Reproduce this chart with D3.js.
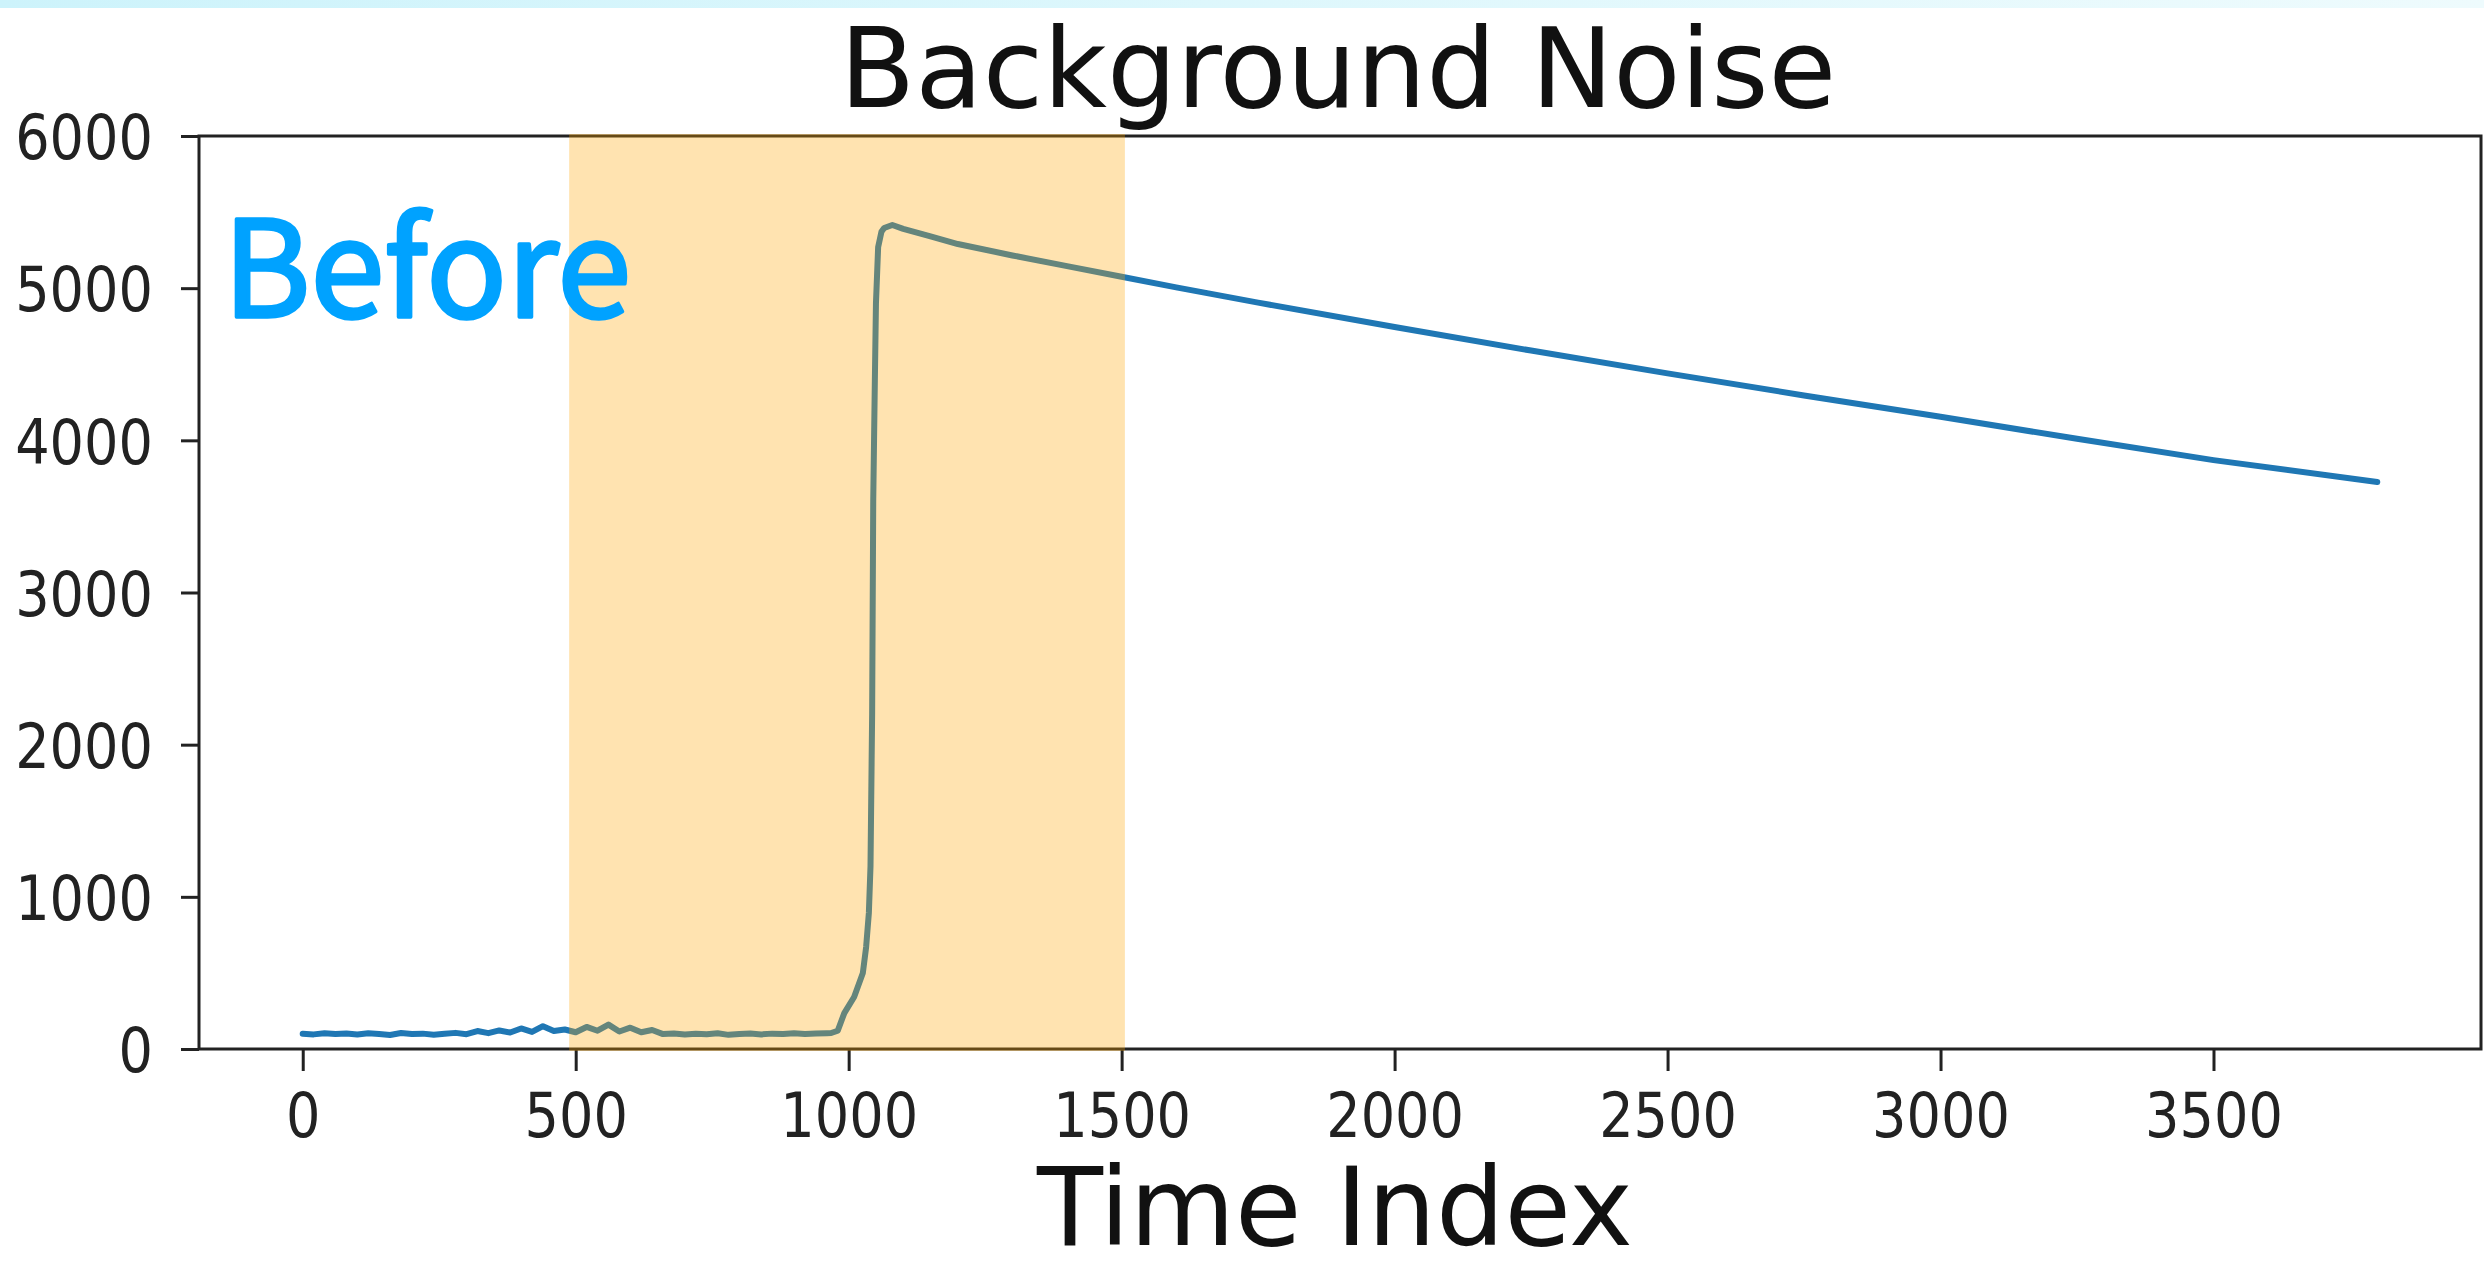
<!DOCTYPE html>
<html>
<head>
    <title>Background Noise</title>
    <script src="https://d3js.org/d3.v7.min.js"></script>
    <style>
        body { margin: 0; background: #fff; }
        text { font-family: "DejaVu Sans", sans-serif; }
    </style>
</head>
<body>
    <script>
        // data
        var timeIndex = [0, 20, 40, 60, 80, 100, 120, 140, 160, 180, 200, 220, 240, 260, 280, 300,
            320, 340, 360, 380, 400, 420, 440, 460, 480, 500, 520, 540, 560, 580, 600, 620, 640,
            660, 680, 700, 720, 740, 760, 780, 800, 820, 840, 860, 880, 900, 920, 940, 960, 968,
            980, 992, 1010, 1026, 1032, 1037, 1040, 1043, 1045, 1048, 1050, 1054, 1060, 1065, 1080,
            1100, 1150, 1200, 1300, 1400, 1500, 1600, 1750, 2000, 2250, 2500, 2750, 3000, 3250, 3500, 3800];
        var noiseValues = [100, 96, 104, 98, 102, 95, 103, 99, 92, 105, 98, 101, 94, 100, 106, 97,
            118, 104, 122, 108, 135, 112, 150, 118, 128, 110, 145, 120, 160, 115, 140, 110, 125,
            98, 102, 95, 100, 97, 104, 93, 99, 102, 96, 101, 98, 103, 99, 102, 104, 105,
            120, 236, 342, 500, 670, 894, 1200, 2200, 3600, 4400, 4900, 5270, 5370, 5395, 5415,
            5390, 5340, 5290, 5215, 5145, 5075, 5005, 4905, 4745, 4590, 4440, 4295, 4155, 4010, 3870, 3726];

        var xTicks = [0, 500, 1000, 1500, 2000, 2500, 3000, 3500];
        var yTicks = [0, 1000, 2000, 3000, 4000, 5000, 6000];
        var highlight = [488, 1506];

        var width = 2484, height = 1262;
        var plotLeft = 199, plotRight = 2481, plotTop = 136, plotBottom = 1049;

        var svg = d3.select("body")
                    .append("svg")
                    .attr("width", width)
                    .attr("height", height);

        // light band at the very top
        var grad = svg.append("defs").append("linearGradient").attr("id", "band");
        grad.append("stop").attr("offset", "0%").attr("stop-color", "#cdf3fb");
        grad.append("stop").attr("offset", "100%").attr("stop-color", "#eefbfd");
        svg.append("rect").attr("x", 0).attr("y", 0).attr("width", width).attr("height", 8)
           .attr("fill", "url(#band)");

        var x = d3.scaleLinear().domain([-190, 3990]).range([plotLeft, plotRight]);
        var y = d3.scaleLinear().domain([0, 6000]).range([plotBottom, plotTop]);

        // line
        var points = timeIndex.map((t, i) => [t, noiseValues[i]]);
        var line = d3.line().x(d => x(d[0])).y(d => y(d[1]));
        svg.append("path")
           .datum(points)
           .attr("d", line)
           .attr("fill", "none")
           .attr("stroke", "#1f77b4")
           .attr("stroke-width", 6)
           .attr("stroke-linejoin", "round")
           .attr("stroke-linecap", "round");

        // axes
        var xAxis = svg.append("g")
            .attr("transform", `translate(0,${plotBottom})`)
            .call(d3.axisBottom(x).tickValues(xTicks).tickFormat(d3.format("d"))
                    .tickSize(22).tickSizeOuter(0));
        var yAxis = svg.append("g")
            .attr("transform", `translate(${plotLeft},0)`)
            .call(d3.axisLeft(y).tickValues(yTicks).tickFormat(d3.format("d"))
                    .tickSize(18).tickSizeOuter(0));

        [xAxis, yAxis].forEach(a => {
            a.select(".domain").remove();
            a.selectAll("line").attr("stroke", "#222").attr("stroke-width", 3);
            a.selectAll("text")
             .attr("fill", "#222")
             .style("font-size", "63px");
        });
        xAxis.selectAll("text")
             .attr("y", 88).attr("dy", 0)
             .attr("transform", "scale(0.86,1)");
        yAxis.selectAll("text")
             .attr("x", -46 / 0.86).attr("dy", "0.36em")
             .attr("transform", "scale(0.86,1)");

        // frame
        svg.append("rect")
           .attr("x", plotLeft).attr("y", plotTop)
           .attr("width", plotRight - plotLeft).attr("height", plotBottom - plotTop)
           .attr("fill", "none")
           .attr("stroke", "#222")
           .attr("stroke-width", 3);

        // highlighted span, drawn on top
        svg.append("rect")
           .attr("x", x(highlight[0]))
           .attr("y", plotTop - 2)
           .attr("width", x(highlight[1]) - x(highlight[0]))
           .attr("height", plotBottom - plotTop + 4)
           .attr("fill", "orange")
           .attr("fill-opacity", 0.31);

        // title and label
        svg.append("text")
           .attr("x", 1338).attr("y", 107)
           .attr("text-anchor", "middle")
           .style("font-size", "110px")
           .attr("fill", "#111")
           .text("Background Noise");

        svg.append("text")
           .attr("x", 1335).attr("y", 1245)
           .attr("text-anchor", "middle")
           .style("font-size", "108px")
           .attr("fill", "#111")
           .text("Time Index");

        // annotation, regular face thickened a little with a stroke
        svg.append("text")
           .attr("x", 223).attr("y", 317)
           .style("font-family", "'Noto Sans CJK SC', 'Noto Sans', sans-serif")
           .style("font-size", "134px")
           .attr("textLength", 408)
           .attr("lengthAdjust", "spacingAndGlyphs")
           .attr("fill", "#00a2ff")
           .attr("stroke", "#00a2ff")
           .attr("stroke-width", 3.5)
           .attr("stroke-linejoin", "round")
           .text("Before");
    </script>
</body>
</html>
